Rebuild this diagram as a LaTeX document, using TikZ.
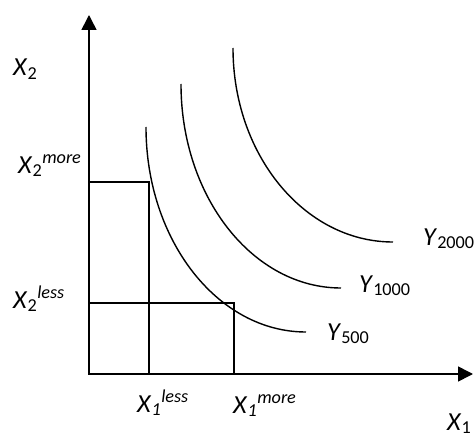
\documentclass[tikz,border=0pt]{standalone}
\usepackage{fontspec}
\setmainfont{Carlito}
\usetikzlibrary{arrows.meta}
\tikzset{
  >={Triangle[length=15pt,width=15pt]},
  axis/.style={<->,line width=1.6pt,draw=black},
  guide/.style={line width=1.4pt,draw=black},
  isoquant/.style={line width=1.4pt,draw=black},
  lbl/.style={anchor=base west,inner sep=0pt,font=\fontsize{26}{30}\selectfont}
}
\newcommand{\var}[1]{\textit{#1}}

\begin{document}
\begin{tikzpicture}[x=1pt,y=1pt]
  \useasboundingbox (-89,-63) rectangle (385,374);
  \coordinate (O) at (0,0);
  \coordinate (xtip) at (384,0);
  \coordinate (ytip) at (0,359);
  \draw[axis] (ytip) -- (O) -- (xtip);
  % input combinations on Y500
  \coordinate (lessmore) at (60,192);
  \coordinate (moreless) at (145,71);
  \draw[guide] (0,192) -| (60,0);
  \draw[guide] (0,71) -| (145,0);
  % isoquants
  \draw[isoquant] (57,247) arc[start angle=180,end angle=270,x radius=160,y radius=205];
  \draw[isoquant] (92,290) arc[start angle=180,end angle=270,x radius=160,y radius=204];
  \draw[isoquant] (144,326) arc[start angle=180,end angle=270,x radius=160,y radius=194];
  % labels
  \node[lbl] (x2) at (-76,298) {\var{X}\textsubscript{2}};
  \node[lbl] (x2more) at (-71,201) {\var{X}\textsubscript{2}\textsuperscript{\var{more}}};
  \node[lbl] (x2less) at (-76,66) {\var{X}\textsubscript{2}\textsuperscript{\var{less}}};
  \node[lbl] (x1less) at (48,-38) {\var{X}\textsubscript{\var{1}}\textsuperscript{\var{less}}};
  \node[lbl] (x1more) at (144,-39) {\var{X}\textsubscript{\var{1}}\textsuperscript{\var{more}}};
  \node[lbl] (x1) at (358,-56) {\var{X}\textsubscript{1}};
  \node[lbl] (y2000) at (334,129) {\var{Y}\textsubscript{2000}};
  \node[lbl] (y1000) at (270,82) {\var{Y}\textsubscript{1000}};
  \node[lbl] (y500) at (238,34) {\var{Y}\textsubscript{500}};
\end{tikzpicture}
\end{document}
